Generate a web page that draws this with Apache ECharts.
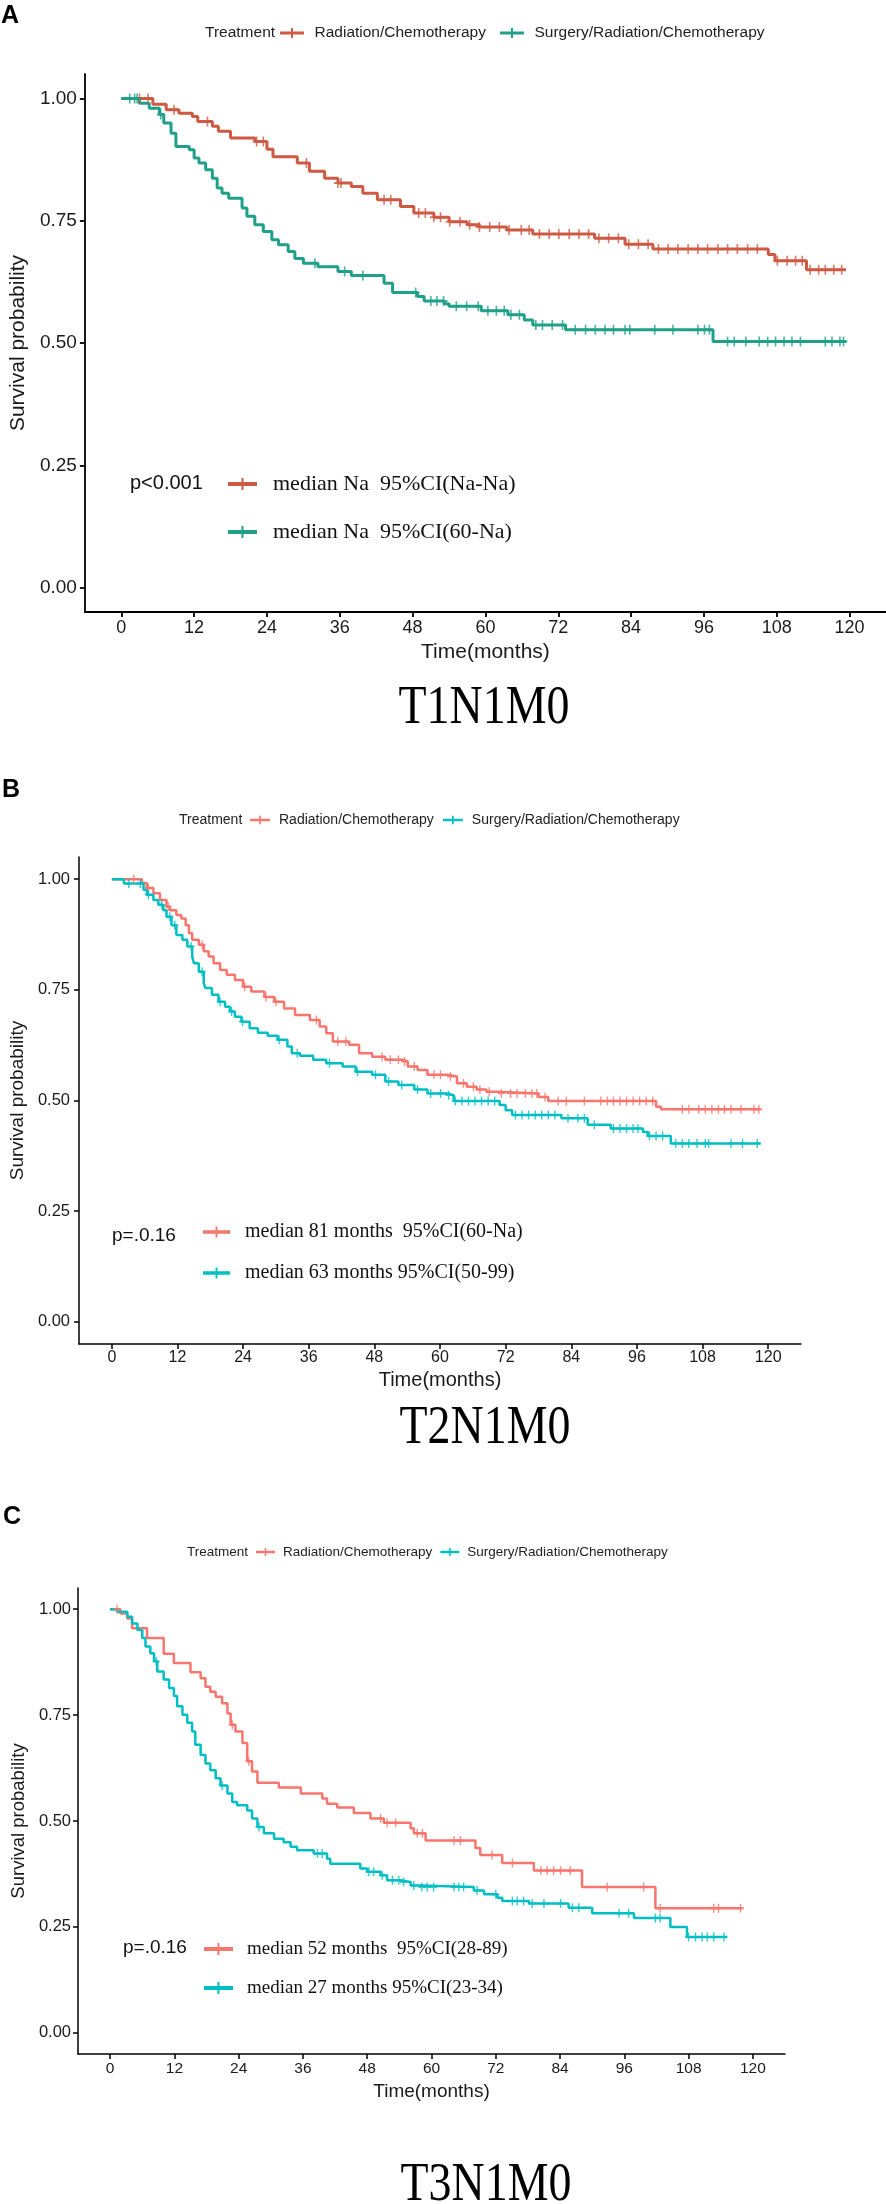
<!DOCTYPE html>
<html>
<head>
<meta charset="utf-8">
<title>Survival by treatment: T1N1M0, T2N1M0, T3N1M0</title>
<script src="https://cdn.jsdelivr.net/npm/echarts@6/dist/echarts.min.js"></script>
<style>
html, body { margin: 0; padding: 0; background: #fff; }
body { width: 886px; height: 2204px; position: relative; overflow: hidden; }
.panel { position: absolute; left: 0; width: 886px; }
#chartA { top: 0; height: 735px; }
#chartB { top: 735px; height: 725px; }
#chartC { top: 1460px; height: 744px; }
</style>
</head>
<body>
<div id="chartA" class="panel"></div>
<div id="chartB" class="panel"></div>
<div id="chartC" class="panel"></div>
<script>
// ---- shared labels / ticks ----
var treatments = ['Radiation/Chemotherapy', 'Surgery/Radiation/Chemotherapy'];
var monthTicks = [0, 12, 24, 36, 48, 60, 72, 84, 96, 108, 120];
var survTicks = [0, 0.25, 0.5, 0.75, 1];

// ---- A: T1N1M0 ----
var aRcTime = [0, 5.2, 7.4, 9.5, 11.7, 12.6, 15.0, 16.0, 18.0, 22.0, 24.0, 25.0, 29.0, 31.0, 33.5, 35.7, 37.9, 39.8, 42.2, 46.0, 48.2, 51.5, 54.0, 57.0, 59.0, 63.5, 67.8, 78.0, 83.0, 87.6, 106.6, 107.7, 112.9, 119.4];
var aRcSurv = [1, 0.988, 0.977, 0.970, 0.963, 0.953, 0.943, 0.933, 0.919, 0.912, 0.896, 0.881, 0.868, 0.851, 0.837, 0.827, 0.820, 0.806, 0.793, 0.779, 0.766, 0.757, 0.748, 0.742, 0.737, 0.731, 0.723, 0.714, 0.702, 0.692, 0.681, 0.668, 0.650, 0.650];
var aRcCens = [3.0, 4.4, 8.7, 14.2, 22.3, 23.4, 30.5, 35.7, 36.2, 43.3, 44.4, 49.0, 50.1, 51.5, 52.6, 54.1, 55.8, 57.4, 59.0, 60.7, 62.3, 63.9, 65.9, 67.2, 68.9, 70.5, 72.1, 73.8, 75.4, 77.0, 78.7, 80.3, 81.9, 83.6, 85.2, 86.8, 88.5, 90.1, 91.7, 93.4, 95.0, 96.6, 98.3, 99.9, 101.5, 103.2, 104.8, 108.1, 109.7, 111.1, 112.2, 113.5, 114.9, 116.0, 117.4, 118.7];
var aSrcTime = [0, 3.0, 4.6, 6.3, 7.0, 8.2, 9.0, 11.2, 12.0, 12.8, 13.9, 15.0, 15.8, 16.6, 17.7, 19.9, 20.7, 22.0, 23.4, 24.8, 25.9, 27.5, 28.6, 30.0, 32.4, 35.7, 37.9, 43.3, 44.7, 48.8, 49.9, 53.2, 54.0, 59.3, 63.7, 66.4, 67.8, 73.2, 97.5, 119.4];
var aSrcSurv = [1, 0.990, 0.980, 0.967, 0.950, 0.929, 0.902, 0.895, 0.878, 0.868, 0.854, 0.837, 0.817, 0.806, 0.796, 0.776, 0.759, 0.742, 0.728, 0.711, 0.701, 0.687, 0.673, 0.663, 0.656, 0.646, 0.638, 0.622, 0.603, 0.595, 0.586, 0.580, 0.575, 0.566, 0.558, 0.547, 0.537, 0.527, 0.503, 0.503];
var aSrcCens = [1.4, 2.2, 2.6, 6.5, 31.9, 36.8, 39.8, 48.5, 51.0, 52.0, 53.1, 55.2, 56.9, 58.8, 60.4, 61.8, 63.1, 64.2, 65.6, 68.3, 69.4, 71.0, 72.7, 74.8, 76.5, 78.1, 79.7, 81.1, 83.0, 83.8, 87.9, 90.9, 95.0, 96.1, 96.9, 99.9, 101.0, 102.9, 105.1, 106.5, 107.8, 109.2, 110.5, 111.9, 116.0, 117.1, 118.4, 119.0];
var aMedian = ['median Na  95%CI(Na-Na)', 'median Na  95%CI(60-Na)'];

// ---- B: T2N1M0 ----
var bRcTime = [0, 5.5, 6.4, 7.6, 8.8, 10.0, 10.6, 11.8, 12.7, 13.5, 14.1, 14.7, 15.9, 16.8, 17.7, 18.6, 19.8, 21.0, 22.5, 24.0, 25.5, 27.9, 29.7, 31.5, 33.5, 36.2, 38.0, 39.2, 40.4, 43.4, 45.2, 47.6, 50.0, 53.0, 54.1, 55.9, 57.7, 61.3, 63.1, 64.9, 66.7, 68.5, 70.3, 78.0, 79.8, 99.5, 100.4, 118.6];
var bRcSurv = [1, 0.991, 0.980, 0.968, 0.953, 0.938, 0.930, 0.919, 0.911, 0.896, 0.878, 0.863, 0.852, 0.837, 0.825, 0.810, 0.795, 0.784, 0.772, 0.757, 0.746, 0.734, 0.723, 0.708, 0.693, 0.682, 0.667, 0.652, 0.633, 0.626, 0.607, 0.599, 0.592, 0.588, 0.577, 0.569, 0.558, 0.554, 0.539, 0.531, 0.525, 0.520, 0.516, 0.508, 0.499, 0.486, 0.480, 0.480];
var bRcCens = [4.0, 6.7, 10.3, 16.5, 24.3, 28.2, 30.0, 37.4, 41.3, 42.8, 49.4, 50.9, 52.4, 53.5, 55.3, 58.9, 60.1, 61.9, 64.3, 66.1, 67.3, 69.0, 71.2, 72.9, 74.1, 75.6, 76.8, 77.7, 79.2, 81.6, 83.1, 86.4, 89.4, 90.6, 91.7, 92.9, 94.1, 95.3, 96.5, 97.7, 98.9, 104.3, 105.5, 107.3, 108.5, 109.7, 110.9, 112.0, 113.2, 115.0, 117.4, 118.3];
var bSrcTime = [0, 2.2, 5.8, 6.4, 7.6, 8.5, 9.4, 10.0, 10.9, 11.8, 12.9, 13.8, 14.7, 15.0, 15.9, 16.8, 17.1, 18.3, 19.5, 20.7, 21.6, 22.5, 23.7, 25.2, 26.7, 28.5, 30.3, 32.1, 32.9, 34.4, 36.8, 39.2, 42.2, 44.6, 47.6, 50.0, 52.4, 55.3, 57.7, 61.3, 62.5, 70.9, 72.0, 73.2, 82.2, 87.0, 91.2, 97.1, 98.0, 102.2, 118.6];
var bSrcSurv = [1, 0.990, 0.976, 0.965, 0.953, 0.942, 0.930, 0.915, 0.896, 0.874, 0.863, 0.848, 0.825, 0.810, 0.791, 0.765, 0.754, 0.739, 0.723, 0.712, 0.701, 0.689, 0.678, 0.663, 0.653, 0.646, 0.637, 0.622, 0.607, 0.601, 0.592, 0.584, 0.577, 0.565, 0.558, 0.543, 0.535, 0.525, 0.516, 0.512, 0.499, 0.490, 0.478, 0.467, 0.460, 0.445, 0.437, 0.429, 0.420, 0.403, 0.403];
var bSrcCens = [3.1, 5.2, 6.7, 9.1, 10.6, 11.5, 14.5, 16.5, 19.8, 21.9, 23.9, 30.6, 33.9, 39.8, 44.9, 48.2, 50.6, 53.0, 55.9, 58.3, 60.1, 61.6, 62.8, 64.0, 65.2, 66.4, 67.6, 68.8, 70.0, 73.8, 75.0, 76.2, 77.4, 78.6, 79.8, 81.0, 83.4, 85.2, 86.4, 88.2, 91.7, 92.9, 94.1, 95.3, 96.2, 98.3, 99.5, 100.7, 103.1, 104.3, 105.5, 107.0, 108.5, 109.1, 113.2, 115.3, 118.0];
var bMedian = ['median 81 months  95%CI(60-Na)', 'median 63 months 95%CI(50-99)'];

// ---- C: T3N1M0 ----
var cRcTime = [0, 1.9, 3.2, 4.1, 6.9, 10.0, 11.9, 15.0, 16.9, 17.8, 18.7, 19.7, 20.9, 21.9, 22.5, 23.4, 24.7, 25.6, 26.5, 27.5, 31.5, 35.6, 39.6, 40.5, 42.4, 45.5, 48.6, 51.1, 56.1, 56.7, 58.9, 68.2, 69.1, 73.2, 79.1, 88.1, 101.8, 118.0];
var cRcSurv = [1, 0.990, 0.978, 0.955, 0.932, 0.895, 0.873, 0.851, 0.837, 0.817, 0.805, 0.793, 0.778, 0.754, 0.727, 0.711, 0.684, 0.641, 0.617, 0.590, 0.579, 0.565, 0.553, 0.541, 0.532, 0.519, 0.506, 0.496, 0.483, 0.471, 0.454, 0.436, 0.420, 0.401, 0.383, 0.344, 0.294, 0.294];
var cRcCens = [1.3, 22.8, 25.9, 50.5, 51.7, 53.3, 57.3, 58.3, 64.2, 65.4, 71.3, 75.1, 80.4, 81.6, 82.8, 84.1, 85.9, 92.8, 99.6, 102.7, 112.7, 113.6, 117.7];
var cSrcTime = [0, 1.3, 3.2, 4.1, 5.1, 6.0, 6.6, 7.5, 8.2, 8.8, 10.0, 11.0, 11.9, 12.5, 13.5, 14.4, 15.3, 15.9, 16.9, 17.8, 18.7, 19.7, 20.6, 21.9, 22.8, 23.7, 25.6, 26.5, 27.5, 28.7, 30.6, 32.4, 33.7, 34.9, 38.0, 40.5, 41.1, 46.7, 48.0, 50.5, 51.7, 54.2, 56.1, 57.9, 67.9, 69.8, 72.3, 73.2, 78.2, 85.6, 90.0, 97.8, 104.6, 107.7, 115.2];
var cSrcSurv = [1, 0.994, 0.982, 0.966, 0.951, 0.932, 0.912, 0.896, 0.877, 0.853, 0.834, 0.814, 0.795, 0.771, 0.751, 0.732, 0.711, 0.680, 0.656, 0.636, 0.620, 0.601, 0.584, 0.565, 0.545, 0.537, 0.525, 0.506, 0.486, 0.471, 0.458, 0.450, 0.439, 0.431, 0.423, 0.411, 0.399, 0.388, 0.380, 0.372, 0.360, 0.356, 0.348, 0.344, 0.336, 0.327, 0.319, 0.311, 0.305, 0.295, 0.282, 0.271, 0.250, 0.226, 0.226];
var cSrcCens = [8.6, 20.9, 27.8, 38.7, 39.6, 48.3, 49.2, 50.8, 52.7, 53.9, 54.8, 56.7, 58.2, 59.2, 60.4, 64.2, 65.1, 66.0, 68.5, 72.0, 75.1, 76.0, 77.2, 78.8, 81.0, 84.1, 86.3, 87.5, 95.0, 96.8, 101.8, 102.7, 108.0, 109.3, 110.5, 111.5, 112.7, 114.6];
var cMedian = ['median 52 months  95%CI(28-89)', 'median 27 months 95%CI(23-34)'];

var pValues = ['p<0.001', 'p=.0.16', 'p=.0.16'];
var stageTitles = ['T1N1M0', 'T2N1M0', 'T3N1M0'];
var panelLetters = ['A', 'B', 'C'];

// ---- helpers ----
var SANS = "'Liberation Sans', Arial, sans-serif";
var SERIF = "'Liberation Serif', 'Times New Roman', serif";
var CENSOR_ICON = 'path://M4,0 L6,0 L6,4 L10,4 L10,6 L6,6 L6,10 L4,10 L4,6 L0,6 L0,4 L4,4 Z';
var KEY_ICON = 'path://M0,3.5 L24,3.5 L24,6.5 L0,6.5 Z M11,0 L13,0 L13,10 L11,10 Z';
var MED_ICON = 'path://M0,4 L29,4 L29,8 L0,8 Z M13.5,0 L15.5,0 L15.5,12 L13.5,12 Z';

function zipPairs(xs, ys) {
    return xs.map(function (x, i) { return [x, ys[i]]; });
}
// step-function value of the curve at time t (censor marks sit on the curve)
function survAt(times, surv, t) {
    var s = surv[0];
    for (var i = 0; i < times.length; i++) {
        if (times[i] <= t) s = surv[i]; else break;
    }
    return s;
}
function censorPoints(times, surv, cens) {
    return cens.map(function (t) { return [t, survAt(times, surv, t)]; });
}

function buildOption(d, L) {
    var curves = [[d.rcTime, d.rcSurv, d.rcCens], [d.srcTime, d.srcSurv, d.srcCens]];
    var series = [];
    curves.forEach(function (c, i) {
        series.push({
            name: treatments[i], type: 'line', step: 'end',
            data: zipPairs(c[0], c[1]), showSymbol: false,
            lineStyle: { color: L.colors[i], width: L.lineWidth },
            itemStyle: { color: L.colors[i] }, z: 2
        });
    });
    curves.forEach(function (c, i) {
        series.push({
            name: treatments[i], type: 'scatter',
            data: censorPoints(c[0], c[1], c[2]),
            symbol: CENSOR_ICON, symbolSize: L.censorSize,
            itemStyle: { color: L.colors[i] }, z: 3
        });
    });

    var axisLine = { show: true, onZero: false, lineStyle: { color: '#000', width: L.axisWidth } };
    var axisTick = { show: true, length: 5, lineStyle: { color: '#000', width: L.axisWidth } };

    return {
        animation: false,
        textStyle: { fontFamily: SANS },
        grid: { left: L.grid[0], top: L.grid[1], width: L.grid[2], height: L.grid[3] },
        xAxis: {
            type: 'value', min: -6, max: 126,
            name: 'Time(months)', nameLocation: 'middle', nameGap: L.xNameGap,
            nameTextStyle: { fontSize: L.xNameSize, color: '#1a1a1a', fontFamily: SANS },
            axisLine: axisLine,
            axisTick: Object.assign({ customValues: monthTicks }, axisTick),
            axisLabel: { customValues: monthTicks, fontSize: L.xTickSize, color: '#1a1a1a', margin: L.xTickMargin },
            splitLine: { show: false }
        },
        yAxis: {
            type: 'value', min: -0.05, max: 1.05,
            name: 'Survival probability', nameLocation: 'middle', nameRotate: 90, nameGap: L.yNameGap,
            nameTextStyle: { fontSize: L.yNameSize, color: '#1a1a1a', fontFamily: SANS },
            axisLine: axisLine,
            axisTick: Object.assign({ customValues: survTicks }, axisTick),
            axisLabel: {
                customValues: survTicks, fontSize: L.yTickSize, color: '#1a1a1a', margin: L.yTickMargin,
                formatter: function (v) { return v.toFixed(2); }
            },
            splitLine: { show: false }
        },
        legend: [{
            data: treatments, orient: 'horizontal', padding: 0,
            left: L.key.left, top: L.key.y - L.key.lh / 2,
            itemWidth: L.key.w, itemHeight: 10, itemGap: L.key.gap, icon: KEY_ICON,
            textStyle: { fontSize: L.key.size, lineHeight: L.key.lh, color: '#222', padding: [0, 0, 0, L.key.pad] }
        }, {
            data: treatments, orient: 'vertical', padding: 0,
            left: L.med.left, top: L.med.y - L.med.lh / 2,
            itemWidth: L.med.w, itemHeight: 12, itemGap: L.med.step - L.med.lh, icon: MED_ICON,
            formatter: function (name) { return d.median[treatments.indexOf(name)]; },
            textStyle: { fontFamily: SERIF, fontSize: L.med.size, lineHeight: L.med.lh, color: '#111', padding: [0, 0, 0, L.med.pad] }
        }],
        graphic: [
            { type: 'text', x: L.letter[0], y: L.letter[1],
              style: { text: d.letter, font: 'bold 25px ' + SANS, fill: '#000', verticalAlign: 'middle' } },
            { type: 'text', x: L.keyTitle[0], y: L.key.y,
              style: { text: 'Treatment', fontSize: L.key.size, fontFamily: SANS, fill: '#222', verticalAlign: 'middle' } },
            { type: 'text', x: L.pPos[0], y: L.pPos[1],
              style: { text: d.p, fontSize: L.pSize, fontFamily: SANS, fill: '#111', verticalAlign: 'middle' } },
            { type: 'text', x: L.title[0], y: L.title[1], scaleX: 0.85,
              style: { text: d.title, fontSize: 54, fontFamily: SERIF, fill: '#000', align: 'center', verticalAlign: 'middle' } }
        ],
        series: series
    };
}

// ---- panel layouts (pixels inside each panel div) ----
var layoutA = {
    colors: ['#CE5A43', '#20A089'], lineWidth: 3, axisWidth: 1.8, censorSize: [8, 10],
    grid: [78, 74, 808, 538],
    xNameGap: 30, xNameSize: 21, xTickSize: 18, xTickMargin: 7,
    yNameGap: 50, yNameSize: 21, yTickSize: 19, yTickMargin: 8,
    key: { left: 280, y: 33, w: 25, gap: 14, size: 15.5, lh: 18, pad: 5 },
    keyTitle: [205],
    med: { left: 228, y: 484, step: 48, w: 29, size: 22, lh: 24, pad: 11 },
    pPos: [130, 483], pSize: 20,
    letter: [1, 16], title: [484, 709]
};
var layoutB = {
    colors: ['#F8766D', '#00BFC4'], lineWidth: 2.5, axisWidth: 1.5, censorSize: [7, 9],
    grid: [64, 122, 737, 487],
    xNameGap: 26, xNameSize: 20, xTickSize: 16, xTickMargin: 6,
    yNameGap: 45, yNameSize: 19, yTickSize: 16.5, yTickMargin: 9,
    key: { left: 250, y: 85, w: 20, gap: 9, size: 14, lh: 16, pad: 4 },
    keyTitle: [179],
    med: { left: 203, y: 497, step: 41, w: 27, size: 20, lh: 22, pad: 10 },
    pPos: [112, 501], pSize: 19,
    letter: [2, 55], title: [485, 694]
};
var layoutC = {
    colors: ['#F8766D', '#00BFC4'], lineWidth: 2.5, axisWidth: 1.5, censorSize: [7, 9],
    grid: [78, 128, 707, 466],
    xNameGap: 25, xNameSize: 19, xTickSize: 15.5, xTickMargin: 7,
    yNameGap: 44, yNameSize: 18.5, yTickSize: 16.5, yTickMargin: 7,
    key: { left: 256, y: 92, w: 19, gap: 8, size: 13.5, lh: 16, pad: 3 },
    keyTitle: [187],
    med: { left: 204, y: 489, step: 39, w: 29, size: 19, lh: 21, pad: 9 },
    pPos: [123, 488], pSize: 19,
    letter: [3, 57], title: [486, 726]
};

var panels = [
    { id: 'chartA', layout: layoutA, data: { rcTime: aRcTime, rcSurv: aRcSurv, rcCens: aRcCens, srcTime: aSrcTime, srcSurv: aSrcSurv, srcCens: aSrcCens, median: aMedian, p: pValues[0], title: stageTitles[0], letter: panelLetters[0] } },
    { id: 'chartB', layout: layoutB, data: { rcTime: bRcTime, rcSurv: bRcSurv, rcCens: bRcCens, srcTime: bSrcTime, srcSurv: bSrcSurv, srcCens: bSrcCens, median: bMedian, p: pValues[1], title: stageTitles[1], letter: panelLetters[1] } },
    { id: 'chartC', layout: layoutC, data: { rcTime: cRcTime, rcSurv: cRcSurv, rcCens: cRcCens, srcTime: cSrcTime, srcSurv: cSrcSurv, srcCens: cSrcCens, median: cMedian, p: pValues[2], title: stageTitles[2], letter: panelLetters[2] } }
];

panels.forEach(function (p) {
    var chart = echarts.init(document.getElementById(p.id));
    chart.setOption(buildOption(p.data, p.layout));
});
</script>
</body>
</html>
